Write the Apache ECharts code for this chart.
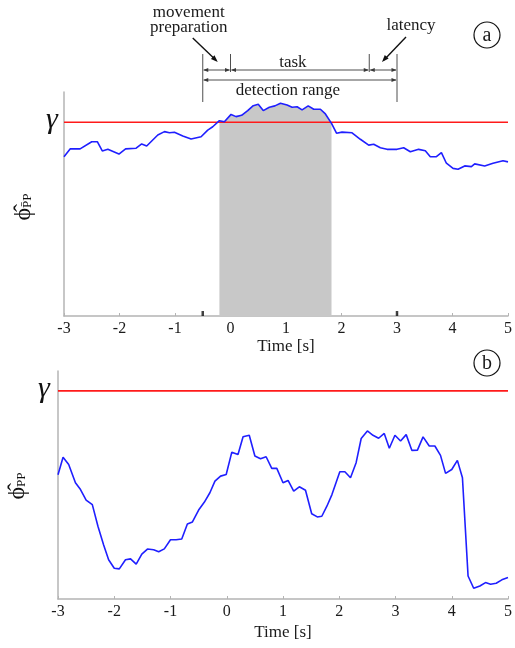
<!DOCTYPE html>
<html>
<head>
<meta charset="utf-8">
<script src="https://cdn.jsdelivr.net/npm/echarts@6/dist/echarts.min.js"></script>
<style>html,body{margin:0;padding:0;background:#fff}#c{width:515px;height:648px}</style>
</head>
<body>
<div id="c"></div>
<script>
// ---------- data ----------
const xTicks = [-3, -2, -1, 0, 1, 2, 3, 4, 5];
const timeA = [-3.00,-2.89,-2.71,-2.50,-2.40,-2.31,-2.21,-2.01,-1.89,-1.70,-1.60,-1.51,-1.31,-1.19,-1.10,-1.01,-0.86,-0.71,-0.53,-0.41,-0.32,-0.20,-0.11,0.01,0.10,0.20,0.31,0.41,0.50,0.59,0.70,0.80,0.90,1.02,1.11,1.20,1.29,1.40,1.50,1.62,1.71,1.82,1.91,2.01,2.19,2.34,2.49,2.58,2.70,2.82,3.00,3.12,3.24,3.39,3.51,3.60,3.71,3.80,3.89,4.01,4.10,4.22,4.34,4.40,4.58,4.73,4.91,5.00];
const valA = [0.711,0.746,0.746,0.778,0.778,0.737,0.744,0.723,0.746,0.749,0.768,0.759,0.808,0.823,0.818,0.820,0.804,0.790,0.800,0.830,0.845,0.872,0.867,0.900,0.890,0.896,0.917,0.939,0.945,0.917,0.932,0.938,0.950,0.942,0.932,0.934,0.920,0.938,0.923,0.923,0.902,0.860,0.816,0.821,0.818,0.789,0.763,0.767,0.751,0.744,0.744,0.751,0.733,0.744,0.738,0.711,0.711,0.729,0.682,0.659,0.655,0.670,0.667,0.679,0.670,0.682,0.693,0.688];
const gammaA = 0.865;
const shadeRange = [-0.2, 1.82];
const detectionRange = [-0.5, 3];
const prepRange = [-0.5, 0];
const taskRange = [0, 2.5];
const latencyRange = [2.5, 3];

const timeB = [-3.00,-2.91,-2.81,-2.69,-2.60,-2.50,-2.39,-2.29,-2.19,-2.10,-2.00,-1.91,-1.80,-1.71,-1.61,-1.51,-1.41,-1.30,-1.21,-1.11,-1.00,-0.90,-0.80,-0.70,-0.61,-0.50,-0.40,-0.30,-0.21,-0.11,-0.01,0.09,0.20,0.29,0.40,0.50,0.60,0.70,0.80,0.89,1.00,1.09,1.19,1.29,1.40,1.51,1.61,1.69,1.78,1.87,2.01,2.10,2.20,2.30,2.39,2.50,2.60,2.70,2.80,2.89,2.99,3.09,3.19,3.29,3.39,3.49,3.60,3.70,3.80,3.89,4.00,4.10,4.19,4.29,4.39,4.50,4.60,4.69,4.79,4.89,5.00];
const valB = [0.545,0.622,0.590,0.510,0.480,0.434,0.414,0.319,0.238,0.172,0.135,0.132,0.172,0.176,0.153,0.197,0.219,0.216,0.207,0.220,0.260,0.260,0.263,0.329,0.338,0.390,0.424,0.466,0.517,0.539,0.546,0.644,0.634,0.712,0.718,0.627,0.615,0.624,0.573,0.573,0.510,0.520,0.473,0.492,0.477,0.374,0.360,0.363,0.407,0.458,0.558,0.558,0.532,0.598,0.704,0.737,0.718,0.705,0.726,0.661,0.718,0.693,0.721,0.652,0.653,0.711,0.671,0.671,0.630,0.551,0.568,0.608,0.532,0.101,0.047,0.057,0.072,0.065,0.069,0.084,0.094];
const gammaB = 0.913;

// ---------- chart ----------
const SERIF = '"Liberation Serif", "DejaVu Serif", serif';
const AX = '#b4b4b4';
const pairs = (t, v) => t.map((x, i) => [x, v[i]]);
const shadeData = pairs(timeA, valA).filter(p => p[0] >= shadeRange[0] - 1e-9 && p[0] <= shadeRange[1] + 1e-9);

function xAxisCfg(gridIndex, gap) {
  return {
    type: 'value', gridIndex, min: -3, max: 5, interval: 1,
    axisLine: { show: true, onZero: false, lineStyle: { color: AX, width: 1.5 } },
    axisTick: { show: true, inside: true, length: 3, lineStyle: { color: AX, width: 1 } },
    axisLabel: { show: true, margin: 5, color: '#1a1a1a', fontFamily: SERIF, fontSize: 16,
      customValues: xTicks },
    splitLine: { show: false },
    name: 'Time [s]', nameLocation: 'middle', nameGap: gap,
    nameTextStyle: { color: '#1a1a1a', fontFamily: SERIF, fontSize: 17 }
  };
}
function yAxisCfg(gridIndex) {
  return {
    type: 'value', gridIndex, min: 0, max: 1,
    axisLine: { show: true, onZero: false, lineStyle: { color: AX, width: 1.5 } },
    axisTick: { show: false }, axisLabel: { show: false }, splitLine: { show: false }
  };
}

const chart = echarts.init(document.getElementById('c'), null, { renderer: 'canvas' });
chart.setOption({
  animation: false,
  backgroundColor: '#fff',
  grid: [
    { left: 64, right: 5, top: 92, height: 224 },
    { left: 58, right: 5, top: 371, height: 228 }
  ],
  xAxis: [xAxisCfg(0, 22), xAxisCfg(1, 25)],
  yAxis: [yAxisCfg(0), yAxisCfg(1)],
  series: [
    { type: 'line', xAxisIndex: 0, yAxisIndex: 0, data: shadeData, showSymbol: false,
      lineStyle: { width: 0 }, areaStyle: { color: '#c8c8c8', opacity: 1, origin: 'start' }, z: 1 },
    { type: 'line', xAxisIndex: 0, yAxisIndex: 0, data: [[-3, gammaA], [5, gammaA]], showSymbol: false,
      lineStyle: { color: '#ff1a1a', width: 1.6 }, z: 2 },
    { type: 'line', xAxisIndex: 0, yAxisIndex: 0, data: pairs(timeA, valA), showSymbol: false,
      lineStyle: { color: '#1f1fff', width: 1.6 }, z: 3 },
    { type: 'scatter', xAxisIndex: 0, yAxisIndex: 0, data: [[detectionRange[0], 0], [detectionRange[1], 0]],
      symbol: 'rect', symbolSize: [2.5, 5], symbolOffset: [0, -2.5], itemStyle: { color: '#111' }, z: 5, silent: true },
    { type: 'line', xAxisIndex: 1, yAxisIndex: 1, data: [[-3, gammaB], [5, gammaB]], showSymbol: false,
      lineStyle: { color: '#ff1a1a', width: 1.6 }, z: 2 },
    { type: 'line', xAxisIndex: 1, yAxisIndex: 1, data: pairs(timeB, valB), showSymbol: false,
      lineStyle: { color: '#1f1fff', width: 1.6 }, z: 3 }
  ]
});

// ---------- annotations ----------
const px = v => chart.convertToPixel({ xAxisIndex: 0 }, v);
const pyA = v => chart.convertToPixel({ yAxisIndex: 0 }, v);
const pyB = v => chart.convertToPixel({ yAxisIndex: 1 }, v);
const G = [];
const DIM = '#3a3a3a';
function line(x1, y1, x2, y2, color, w) {
  G.push({ type: 'line', shape: { x1, y1, x2, y2 }, style: { stroke: color, lineWidth: w }, silent: true, z: 10 });
}
function head(x, y, dx, dy, len, half, color) {
  const L = Math.hypot(dx, dy), ux = dx / L, uy = dy / L;
  const bx = x - ux * len, by = y - uy * len;
  G.push({ type: 'polygon', shape: { points: [[x, y], [bx - uy * half, by + ux * half], [bx + uy * half, by - ux * half]] },
    style: { fill: color }, silent: true, z: 10 });
}
function dim(a, b, y) {
  const xa = px(a), xb = px(b);
  line(xa + 1, y, xb - 1, y, DIM, 0.9);
  head(xb - 0.5, y, 1, 0, 5, 2, DIM);
  head(xa + 0.5, y, -1, 0, 5, 2, DIM);
}
function text(str, x, y, size, opts) {
  G.push(Object.assign({ type: 'text', x, y, silent: true, z: 10,
    style: { text: str, fill: '#1a1a1a', font: size + 'px ' + SERIF, align: 'center', verticalAlign: 'middle' } }, opts || {}));
}
// vertical guide lines
[detectionRange[0], detectionRange[1]].forEach(v => line(px(v), 54, px(v), 102, DIM, 0.9));
[taskRange[0], taskRange[1]].forEach(v => line(px(v), 54, px(v), 72, DIM, 0.9));
dim(prepRange[0], prepRange[1], 70);
dim(taskRange[0], taskRange[1], 70);
dim(latencyRange[0], latencyRange[1], 70);
dim(detectionRange[0], detectionRange[1], 80);
// labels
text('movement', px(prepRange[0]) - 14, 13, 17);
text('preparation', px(prepRange[0]) - 14, 28, 17);
text('task', (px(taskRange[0]) + px(taskRange[1])) / 2 - 7, 63, 17);
text('detection range', (px(detectionRange[0]) + px(detectionRange[1])) / 2 - 12, 91, 17);
text('latency', px(latencyRange[1]) + 14, 26, 17);
// diagonal arrows
(function () {
  const x0 = px(prepRange[0]);
  line(x0 - 10, 38, x0 + 13, 60, '#111', 1.4); head(x0 + 15, 62, 1, 0.96, 7, 2.6, '#111');
  const x1 = px(latencyRange[1]);
  line(x1 + 9, 37, x1 - 13, 60, '#111', 1.4); head(x1 - 15, 62, -1, 1.1, 7, 2.6, '#111');
})();
// circled panel letters
function circLabel(ch, cx, cy) {
  G.push({ type: 'circle', shape: { cx, cy, r: 13 }, style: { fill: 'none', stroke: '#111', lineWidth: 1.2 }, silent: true, z: 10 });
  text(ch, cx, cy + 0.5, 20);
}
circLabel('a', 487, 35);
circLabel('b', 487, 363);
// gamma labels
const gFont = 'italic 30px ' + SERIF;
G.push({ type: 'text', x: 52, y: pyA(gammaA) - 2, silent: true, z: 10,
  style: { text: 'γ', fill: '#111', font: gFont, align: 'center', verticalAlign: 'middle' } });
G.push({ type: 'text', x: 44, y: pyB(gammaB) - 2, silent: true, z: 10,
  style: { text: 'γ', fill: '#111', font: gFont, align: 'center', verticalAlign: 'middle' } });
// y labels (rotated)
function yLabel(x, y, bar) {
  G.push({ type: 'text', x, y, rotation: Math.PI / 2, silent: true, z: 10,
    style: { text: '{p|\u03D5\u0302}{s|' + (bar ? 'P\u0304P' : 'PP') + '}',
      align: 'center', verticalAlign: 'middle', fill: '#111',
      rich: { p: { fontFamily: SERIF, fontSize: 24, fill: '#111' },
              s: { fontFamily: SERIF, fontSize: 13, fill: '#111', padding: [8, 0, 0, 0] } } } });
}
yLabel(24, 207, true);
yLabel(18, 486, false);
chart.setOption({ graphic: G });
</script>
</body>
</html>
